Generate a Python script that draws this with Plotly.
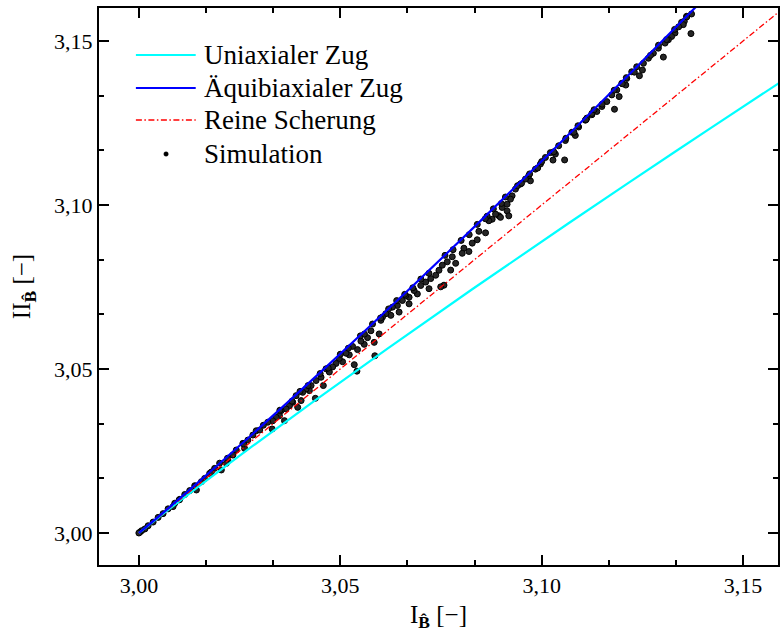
import plotly.graph_objects as go

# ---------------- data ----------------
uni_I = [3.0, 3.00184, 3.00726, 3.01609, 3.02818, 3.04340, 3.06163, 3.08275, 3.10667, 3.13328, 3.15880, 3.17000]
uni_II = [3.0, 3.00181, 3.00703, 3.01533, 3.02645, 3.04012, 3.05614, 3.07431, 3.09444, 3.11639, 3.13710, 3.14620]

equi_I = [3.0, 3.00465, 3.01029, 3.02770, 3.04578, 3.06783, 3.08463, 3.10301, 3.12293, 3.14432]
equi_II = [3.0, 3.00477, 3.01070, 3.02957, 3.04979, 3.07517, 3.09494, 3.11699, 3.14132, 3.16791]

shear_I = [3.0, 3.17]
shear_II = [3.0, 3.17]

sim_I = [
    3.13473, 3.13540, 3.13597, 3.13515, 3.13720, 3.13705, 3.13309, 3.13225, 3.13144, 3.13062,
    3.13020, 3.12896, 3.12772, 3.12649, 3.12525, 3.12500, 3.12426, 3.12359, 3.12235, 3.12087,
    3.12111, 3.11988, 3.11923, 3.11864, 3.11740, 3.11807, 3.11616, 3.11493, 3.11369, 3.11245,
    3.11121,
    3.11245, 3.11082, 3.10916, 3.10834, 3.10750, 3.10587, 3.10569, 3.10421, 3.10339, 3.10280,
    3.10215, 3.10092, 3.09968, 3.09844, 3.09720, 3.09678, 3.09597, 3.09473, 3.09349, 3.09265,
    3.09225, 3.09141, 3.09141, 3.09183, 3.09018, 3.08936, 3.08977, 3.08854, 3.08770, 3.08688,
    3.08646, 3.08606, 3.08441, 3.08399, 3.08275, 3.08193, 3.08069, 3.08027, 3.07864, 3.07780,
    3.07740, 3.07656, 3.07532, 3.07574, 3.07493, 3.07450, 3.07369, 3.07203, 3.07245, 3.07121,
    3.06997, 3.06913, 3.06832, 3.06708, 3.06626, 3.06708, 3.06542, 3.06460, 3.06418, 3.06295,
    3.06255, 3.06131, 3.06047, 3.06007,
    3.05965, 3.05842, 3.05858, 3.05760, 3.05676, 3.05594, 3.05512, 3.05428, 3.05347, 3.05413,
    3.05305, 3.05223, 3.05141, 3.05057, 3.04975, 3.04894, 3.04810, 3.04728, 3.04646, 3.04579,
    3.04522, 3.04399, 3.04381, 3.04275, 3.04233, 3.04151, 3.04067, 3.04027, 3.03943, 3.03903,
    3.03819, 3.03738, 3.03656, 3.03614, 3.03532, 3.03490, 3.03408, 3.03324, 3.03309,
    3.03200, 3.03090,
    3.02913, 3.02830, 3.02624, 3.02706, 3.02582, 3.02418, 3.02334, 3.02210, 3.02171, 3.02047,
    3.02005, 3.01881, 3.01757, 3.01634, 3.01552, 3.01428, 3.01386, 3.01262, 3.01139, 3.01015,
    3.00891, 3.00849, 3.00725, 3.00601, 3.00478, 3.00354, 3.00230, 3.00149, 3.00067, 3.00025,
    3.0,
    3.04500, 3.05000, 3.05500, 3.06200, 3.07000, 3.07600, 3.08000, 3.08800, 3.09400, 3.10000,
    3.10600, 3.11300, 3.11800, 3.12900, 3.13300, 3.04000, 3.03500, 3.05800, 3.06600, 3.08400,
    3.09100, 3.09700, 3.10900, 3.12100, 3.13600,
    3.03000, 3.03800, 3.04200, 3.04700, 3.05200, 3.05600, 3.06000, 3.06400, 3.06800, 3.07200,
    3.07800, 3.08200, 3.08600, 3.09000, 3.09500, 3.09900, 3.10300, 3.10800, 3.11100, 3.11500,
    3.12000, 3.12300, 3.12700, 3.13100, 3.13400, 3.02600, 3.02200, 3.01800, 3.01400, 3.01000,
]
sim_II = [
    3.15569, 3.15600, 3.15753, 3.15499, 3.15824, 3.15225, 3.15243, 3.15138, 3.15038, 3.14936,
    3.14509, 3.14782, 3.14627, 3.14475, 3.14320, 3.14115, 3.13940, 3.14214, 3.14061, 3.13657,
    3.13858, 3.13708, 3.13305, 3.13508, 3.13357, 3.12919, 3.13153, 3.13003, 3.12851, 3.12752,
    3.12649,
    3.12791, 3.12586, 3.12377, 3.12121, 3.12217, 3.11966, 3.11374, 3.11806, 3.11553, 3.11369,
    3.11596, 3.11449, 3.11248, 3.11093, 3.10737, 3.10891, 3.10791, 3.10639, 3.10484, 3.10279,
    3.10179, 3.10024, 3.09820, 3.09669, 3.09925, 3.09672, 3.09623, 3.09722, 3.09566, 3.09520,
    3.09659, 3.09151, 3.09197, 3.08940, 3.08837, 3.08582, 3.08683, 3.08527, 3.08222, 3.08422,
    3.08015, 3.08268, 3.08164, 3.07555, 3.07505, 3.08010, 3.07859, 3.07448, 3.07756, 3.07650,
    3.07546, 3.07289, 3.07392, 3.07187, 3.07239, 3.06986, 3.07088, 3.06734, 3.06935, 3.06886,
    3.06636, 3.06685, 3.06582, 3.06484,
    3.06069, 3.05812, 3.05403, 3.06165, 3.05956, 3.05752, 3.05850, 3.05591, 3.05132, 3.04934,
    3.05688, 3.05431, 3.05481, 3.05222, 3.05323, 3.05169, 3.05063, 3.04908, 3.05005, 3.04495,
    3.04748, 3.04648, 3.04106, 3.04494, 3.04340, 3.04391, 3.04288, 3.04037, 3.03830, 3.04187,
    3.03984, 3.03880, 3.03780, 3.03425, 3.03730, 3.03576, 3.03525, 3.03422, 3.03170,
    3.03377, 3.03285,
    3.03117, 3.02987, 3.02579, 3.02833, 3.02733, 3.02530, 3.02375, 3.02223, 3.02123, 3.01921,
    3.02129, 3.01970, 3.01817, 3.01665, 3.01564, 3.01311, 3.01442, 3.01293, 3.01174, 3.01025,
    3.00907, 3.00805, 3.00736, 3.00590, 3.00476, 3.00333, 3.00221, 3.00123, 3.00069, 3.00025,
    3.0,
    3.04861, 3.05450, 3.06010, 3.06831, 3.07742, 3.08464, 3.08920, 3.09883, 3.10588, 3.11323,
    3.12034, 3.12904, 3.13500, 3.14872, 3.15354, 3.04317, 3.03743, 3.06371, 3.07276, 3.09409,
    3.10243, 3.10948, 3.12415, 3.13882, 3.15734,
    3.03138, 3.04018, 3.04495, 3.05028, 3.05634, 3.06065, 3.06555, 3.07085, 3.07476, 3.07917,
    3.08638, 3.09094, 3.09582, 3.10047, 3.10662, 3.11127, 3.11622, 3.12217, 3.12599, 3.13072,
    3.13698, 3.14050, 3.14562, 3.15044, 3.15432, 3.02712, 3.02279, 3.01860, 3.01427, 3.01009,
]

x_ticks = [3.00, 3.05, 3.10, 3.15]
y_ticks = [3.00, 3.05, 3.10, 3.15]
legend_labels = ["Uniaxialer Zug", "Äquibiaxialer Zug", "Reine Scherung", "Simulation"]

# ---------------- layout helpers ----------------
W, H = 781, 637
L, R, T, B = 99, 1, 8, 72
PW, PH = W - L - R, H - T - B
FONT = "Liberation Serif, Times New Roman, serif"


def px(xp):
    return (xp - L) / PW


def py(yp):
    return (H - B - yp) / PH


fig = go.Figure()

fig.add_trace(go.Scatter(
    x=sim_I, y=sim_II, mode="markers", name=legend_labels[3], showlegend=False,
    marker=dict(size=6, color="#262626", line=dict(color="black", width=1)),
))
fig.add_trace(go.Scatter(
    x=uni_I, y=uni_II, mode="lines", name=legend_labels[0], showlegend=False,
    line=dict(color="#00FFFF", width=2.2, shape="spline"),
))
fig.add_trace(go.Scatter(
    x=shear_I, y=shear_II, mode="lines", name=legend_labels[2], showlegend=False,
    line=dict(color="#FF0000", width=1.3, dash="6px,2.5px,1.5px,2.5px"),
))
fig.add_trace(go.Scatter(
    x=equi_I, y=equi_II, mode="lines", name=legend_labels[1], showlegend=False,
    line=dict(color="#0000FF", width=2.2, shape="spline"),
))

axis_common = dict(
    showline=True, linewidth=2, linecolor="black", mirror="allticks",
    ticks="inside", ticklen=10, tickwidth=2, tickcolor="black",
    showgrid=False, zeroline=False, tickformat=".2f",
    tickfont=dict(family=FONT, size=22, color="black"),
    minor=dict(ticks="inside", ticklen=5, tickwidth=2, tickcolor="black",
               tick0=3.0, dtick=0.05 / 3, showgrid=False),
)

fig.update_xaxes(
    range=[2.9901, 3.15866], tickvals=x_ticks, **axis_common,
    title=dict(text="I<sub><b>B\u0302</b></sub> [\u2212]",
               font=dict(family=FONT, size=25, color="black"), standoff=8),
)
fig.update_yaxes(
    range=[2.99024, 3.16006], tickvals=y_ticks, **axis_common,
    title=dict(text="II<sub><b>B\u0302</b></sub> [\u2212]",
               font=dict(family=FONT, size=25, color="black"), standoff=16),
)

# manual legend
shapes = []
annotations = []
rows = [55, 88, 120, 154]
styles = [dict(color="#00FFFF", width=2.2), dict(color="#0000FF", width=2.2),
          dict(color="#FF0000", width=1.3, dash="6px,2.5px,1.5px,2.5px")]
for i in range(3):
    shapes.append(dict(type="line", xref="paper", yref="paper",
                       x0=px(136), x1=px(196), y0=py(rows[i]), y1=py(rows[i]),
                       line=styles[i]))
shapes.append(dict(type="circle", xref="paper", yref="paper",
                   x0=px(164), x1=px(168.5), y0=py(156.2), y1=py(151.8),
                   fillcolor="black", line=dict(color="black", width=0.5)))
for i, lab in enumerate(legend_labels):
    annotations.append(dict(xref="paper", yref="paper", x=px(202), y=py(rows[i]),
                            xanchor="left", yanchor="middle", text=lab, showarrow=False,
                            font=dict(family=FONT, size=27, color="black")))

fig.update_layout(
    width=W, height=H, margin=dict(l=L, r=R, t=T, b=B),
    paper_bgcolor="white", plot_bgcolor="white",
    separators=",.", showlegend=False,
    shapes=shapes, annotations=annotations,
    font=dict(family=FONT, color="black"),
)

fig.write_html("out.html")
